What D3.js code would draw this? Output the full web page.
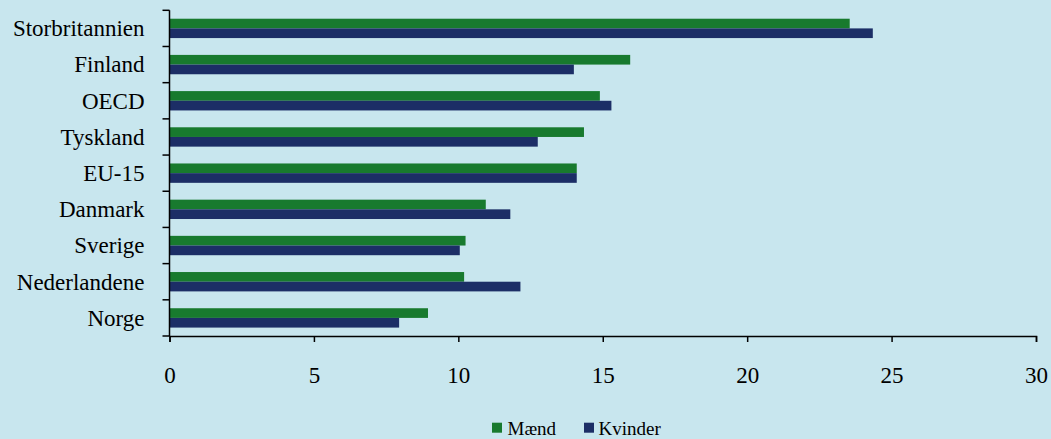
<!DOCTYPE html>
<html>
<head>
<meta charset="utf-8">
<script src="https://cdn.jsdelivr.net/npm/d3@7"></script>
<style>
  html, body { margin: 0; padding: 0; background: #c8e6ee; }
  svg { display: block; }
</style>
</head>
<body>
<svg id="chart" width="1051" height="439"></svg>
<script>
// Categories, top to bottom
const categories = ["Storbritannien", "Finland", "OECD", "Tyskland", "EU-15",
                    "Danmark", "Sverige", "Nederlandene", "Norge"];
// Series values (per cent)
const maend   = [23.55, 15.95, 14.9, 14.35, 14.1, 10.95, 10.25, 10.2, 8.95];
const kvinder = [24.35, 14.0, 15.3, 12.75, 14.1, 11.8, 10.05, 12.15, 7.95];
const seriesNames = ["Mænd", "Kvinder"];
const seriesColors = ["#187a2e", "#1c2e66"];
const xTicks = [0, 5, 10, 15, 20, 25, 30];

const FONT = "'Liberation Serif', 'Times New Roman', Times, serif";

const svg = d3.select("#chart");
svg.append("rect").attr("width", 1051).attr("height", 439).attr("fill", "#c8e6ee");

const x = d3.scaleLinear().domain([0, 30]).range([169.5, 1036]);
const y = d3.scaleBand().domain(categories).range([10.3, 336]).padding(0);
const ySub = d3.scaleBand().domain(seriesNames).range([0, y.bandwidth()])
  .paddingInner(0).paddingOuter(0.87);

const rows = categories.map((c, i) => ({ cat: c, vals: [maend[i], kvinder[i]] }));

// Bars
const g = svg.append("g");
const rowG = g.selectAll("g.row").data(rows).join("g")
  .attr("class", "row")
  .attr("transform", d => `translate(0,${y(d.cat)})`);
rowG.selectAll("rect").data(d => d.vals.map((v, k) => ({ v, k })))
  .join("rect")
  .attr("x", x(0))
  .attr("y", d => ySub(seriesNames[d.k]))
  .attr("width", d => x(d.v) - x(0))
  .attr("height", ySub.bandwidth())
  .attr("fill", d => seriesColors[d.k]);

// Y axis: labels centred on bands, ticks on band boundaries
const yAxis = svg.append("g").attr("transform", `translate(${x(0)},0)`)
  .call(d3.axisLeft(y).tickSize(0).tickPadding(25));
yAxis.attr("font-family", FONT);
yAxis.select(".domain").remove();
yAxis.selectAll("text")
  .style("font-family", FONT).style("font-size", "23px")
  .attr("fill", "#000").attr("dy", "0.34em");
const boundaries = categories.map(c => y(c)).concat([y.range()[1]]);
svg.append("g").selectAll("line").data(boundaries).join("line")
  .attr("x1", x(0) - 7).attr("x2", x(0))
  .attr("y1", d => d).attr("y2", d => d)
  .attr("stroke", "#000").attr("stroke-width", 1.5);
svg.append("line")
  .attr("x1", x(0)).attr("x2", x(0))
  .attr("y1", y.range()[0]).attr("y2", y.range()[1])
  .attr("stroke", "#000").attr("stroke-width", 1.5);

// X axis
const xAxis = svg.append("g").attr("transform", `translate(0,${y.range()[1]})`)
  .call(d3.axisBottom(x).tickValues(xTicks).tickSizeOuter(0).tickSize(6).tickPadding(24.5));
xAxis.attr("font-family", FONT);
xAxis.select(".domain").attr("stroke-width", 1.5);
xAxis.selectAll(".tick line").attr("stroke-width", 1.5);
xAxis.selectAll("text")
  .style("font-family", FONT).style("font-size", "23px").attr("fill", "#000");

// Legend
const legendItems = [
  { name: seriesNames[0], color: seriesColors[0], sx: 492, tx: 507.5 },
  { name: seriesNames[1], color: seriesColors[1], sx: 584, tx: 598.5 }
];
const lg = svg.append("g");
lg.selectAll("rect").data(legendItems).join("rect")
  .attr("x", d => d.sx).attr("y", 422.7).attr("width", 10).attr("height", 10)
  .attr("fill", d => d.color);
lg.selectAll("text").data(legendItems).join("text")
  .attr("x", d => d.tx).attr("y", 434.7)
  .style("font-family", FONT).style("font-size", "19px")
  .attr("fill", "#000")
  .text(d => d.name);
</script>
</body>
</html>
